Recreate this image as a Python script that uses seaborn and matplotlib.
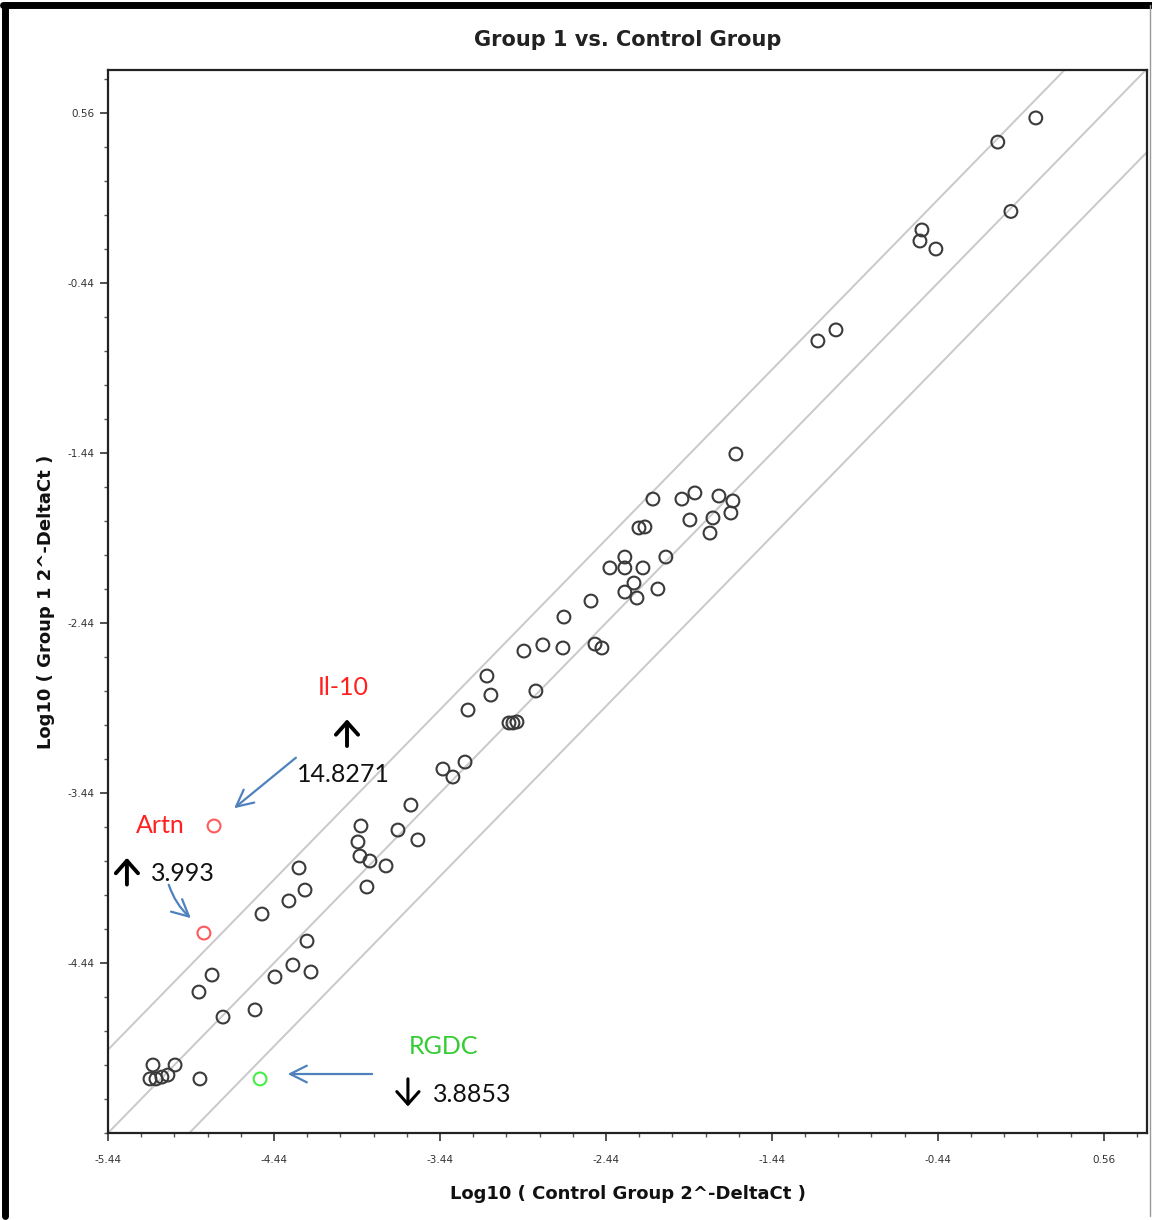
import numpy as np
import pandas as pd
import matplotlib
matplotlib.use("Agg")
import matplotlib.pyplot as plt
import seaborn as sns
from matplotlib.lines import Line2D
from matplotlib.ticker import FixedLocator

# ---------------- data ----------------
control_log = [0.150, -0.079, 0.000, -0.536, -0.548, -0.452, -1.054, -1.163, -1.657,
               -2.157, -1.982, -1.904, -1.759, -1.675, -1.687, -1.795, -1.934, -1.813,
               -2.241, -2.205, -2.326, -2.416, -2.326, -2.217, -2.079, -2.271, -2.326,
               -2.253, -2.127, -2.530, -2.693, -2.934, -2.820, -2.699, -2.506, -2.464,
               -3.157, -3.133, -3.271, -2.862, -3.024, -3.000, -2.976, -3.289, -3.422,
               -3.362, -3.615, -3.693, -3.573, -3.916, -3.934, -3.922, -3.862, -3.765,
               -3.880, -4.289, -4.253, -4.350, -4.512, -4.241, -4.326, -4.217, -4.434,
               -4.813, -4.892, -4.747, -4.554, -5.169, -5.036, -5.187, -5.151, -5.115,
               -5.079, -4.886]
group1_log = [0.531, 0.389, -0.019, -0.128, -0.193, -0.240, -0.716, -0.781, -1.446,
              -1.711, -1.711, -1.675, -1.693, -1.722, -1.793, -1.822, -1.834, -1.911,
              -1.881, -1.875, -2.052, -2.116, -2.116, -2.116, -2.052, -2.205, -2.258,
              -2.293, -2.240, -2.311, -2.405, -2.605, -2.569, -2.587, -2.564, -2.587,
              -2.752, -2.864, -2.952, -2.840, -3.028, -3.028, -3.022, -3.258, -3.299,
              -3.346, -3.511, -3.658, -3.716, -3.634, -3.728, -3.811, -3.840, -3.869,
              -3.993, -3.881, -4.011, -4.075, -4.152, -4.311, -4.452, -4.493, -4.522,
              -4.511, -4.611, -4.758, -4.716, -5.040, -5.040, -5.122, -5.122, -5.111,
              -5.099, -5.122]

up_genes = ["Il-10", "Artn"]
up_control = [-4.801, -4.862]
up_group1 = [-3.634, -4.264]
up_fold = ["14.8271", "3.993"]

down_genes = ["RGDC"]
down_control = [-4.524]
down_group1 = [-5.122]
down_fold = ["3.8853"]

boundary_offsets = [0.49, 0.0, -0.49]

x_ticks = [-5.44, -4.44, -3.44, -2.44, -1.44, -0.44, 0.56]
y_ticks = [0.56, -0.44, -1.44, -2.44, -3.44, -4.44]

title = "Group 1 vs. Control Group"
x_label = "Log10 ( Control Group 2^-DeltaCt )"
y_label = "Log10 ( Group 1 2^-DeltaCt )"

# ---------------- figure ----------------
sns.set_theme(style="white")
plt.rcParams['font.family'] = ['DejaVu Sans']

W, H = 1152, 1220
fig = plt.figure(figsize=(W / 100, H / 100), dpi=100)
ax = fig.add_axes([108 / W, 1 - 1133 / H, (1147 - 108) / W, (1133 - 70) / H])

xlim = (-5.44, 0.82)
ylim = (-5.44, 0.813)

# boundary lines
xs = np.array([-6.5, 1.5])
for off in boundary_offsets:
    sns.lineplot(x=xs, y=xs + off, ax=ax, color="#c9c9c9", lw=1.4, zorder=1)

df = pd.DataFrame({"x": control_log, "y": group1_log})
sns.scatterplot(data=df, x="x", y="y", ax=ax, s=85, facecolor="none",
                edgecolor="#3a3a3a", linewidth=1.5, zorder=3, legend=False)
sns.scatterplot(x=up_control, y=up_group1, ax=ax, s=85, facecolor="none",
                edgecolor="#ff5a5a", linewidth=1.5, zorder=3, legend=False)
sns.scatterplot(x=down_control, y=down_group1, ax=ax, s=85, facecolor="none",
                edgecolor="#44ee44", linewidth=1.5, zorder=3, legend=False)

ax.set_xlim(*xlim)
ax.set_ylim(*ylim)

ax.xaxis.set_major_locator(FixedLocator(x_ticks))
ax.yaxis.set_major_locator(FixedLocator(y_ticks))
ax.xaxis.set_minor_locator(FixedLocator(np.arange(-5.44, 0.82, 0.2)))
ax.yaxis.set_minor_locator(FixedLocator(np.arange(-5.44, 0.82, 0.2)))
ax.set_xticklabels([f"{v:.2f}" for v in x_ticks], fontsize=7.5, color="#333333")
ax.set_yticklabels([f"{v:.2f}" for v in y_ticks], fontsize=7.5, color="#333333")
ax.tick_params(which="major", direction="out", length=6, width=1.2, color="#333333",
               bottom=True, left=True)
ax.tick_params(axis="x", which="major", pad=10)
ax.tick_params(axis="y", which="major", pad=4)
ax.tick_params(which="minor", direction="out", length=3, width=1.0, color="#555555",
               bottom=True, left=True)
for sp in ax.spines.values():
    sp.set_color("#222222")
    sp.set_linewidth(1.6)

ax.set_xlabel(x_label, fontsize=13, fontweight="bold", color="#111111", labelpad=14)
ax.set_ylabel(y_label, fontsize=13, fontweight="bold", color="#111111", labelpad=9)
fig.text((108 + 1147) / 2 / W, 1 - 40 / H, title, ha="center", va="center",
         fontsize=15, fontweight="bold", color="#222222")

# ---------------- annotations ----------------
afont = dict(family=["Lato", "DejaVu Sans"], fontsize=18)
up_arrow = dict(arrowstyle="->,head_length=0.45,head_width=0.4",
                color="black", lw=2.8, mutation_scale=20)
blue_arrow = dict(arrowstyle="->,head_length=0.6,head_width=0.3",
                  color="#4f81bd", lw=1.6, mutation_scale=20)
# Il-10
ax.text(-4.024, -2.822, up_genes[0], color="#ff2020", ha="center", va="center", **afont)
ax.text(-4.024, -3.334, up_fold[0], color="#111111", ha="center", va="center", **afont)
ax.annotate("", xy=(-4.0, -2.99), xytext=(-4.0, -3.18), arrowprops=up_arrow)
ax.annotate("", xy=(-4.693, -3.540), xytext=(-4.295, -3.222), arrowprops=blue_arrow)
# Artn
ax.text(-5.127, -3.634, up_genes[1], color="#ff2020", ha="center", va="center", **afont)
ax.text(-4.988, -3.916, up_fold[1], color="#111111", ha="center", va="center", **afont)
ax.annotate("", xy=(-5.326, -3.805), xytext=(-5.326, -3.995), arrowprops=up_arrow)
ax.annotate("", xy=(-4.928, -4.187), xytext=(-5.079, -3.964),
            arrowprops=dict(blue_arrow, connectionstyle="arc3,rad=0.15"))
# RGDC
ax.text(-3.416, -4.934, down_genes[0], color="#33cc33", ha="center", va="center", **afont)
ax.text(-3.247, -5.216, down_fold[0], color="#111111", ha="center", va="center", **afont)
ax.annotate("", xy=(-3.633, -5.30), xytext=(-3.633, -5.105),
            arrowprops=dict(up_arrow, lw=2.2))
ax.annotate("", xy=(-4.374, -5.093), xytext=(-3.832, -5.093), arrowprops=blue_arrow)

# ---------------- outer frame ----------------
fig.add_artist(Line2D([5 / W, 5 / W], [4 / H, 1 - 5 / H], transform=fig.transFigure,
                      color="black", lw=5))
fig.add_artist(Line2D([3 / W, 1], [1 - 5 / H, 1 - 5 / H], transform=fig.transFigure,
                      color="black", lw=5))
fig.add_artist(Line2D([1150 / W, 1150 / W], [4 / H, 1 - 5 / H], transform=fig.transFigure,
                      color="#999999", lw=1))

fig.savefig("out.png", dpi=100, facecolor="white")
